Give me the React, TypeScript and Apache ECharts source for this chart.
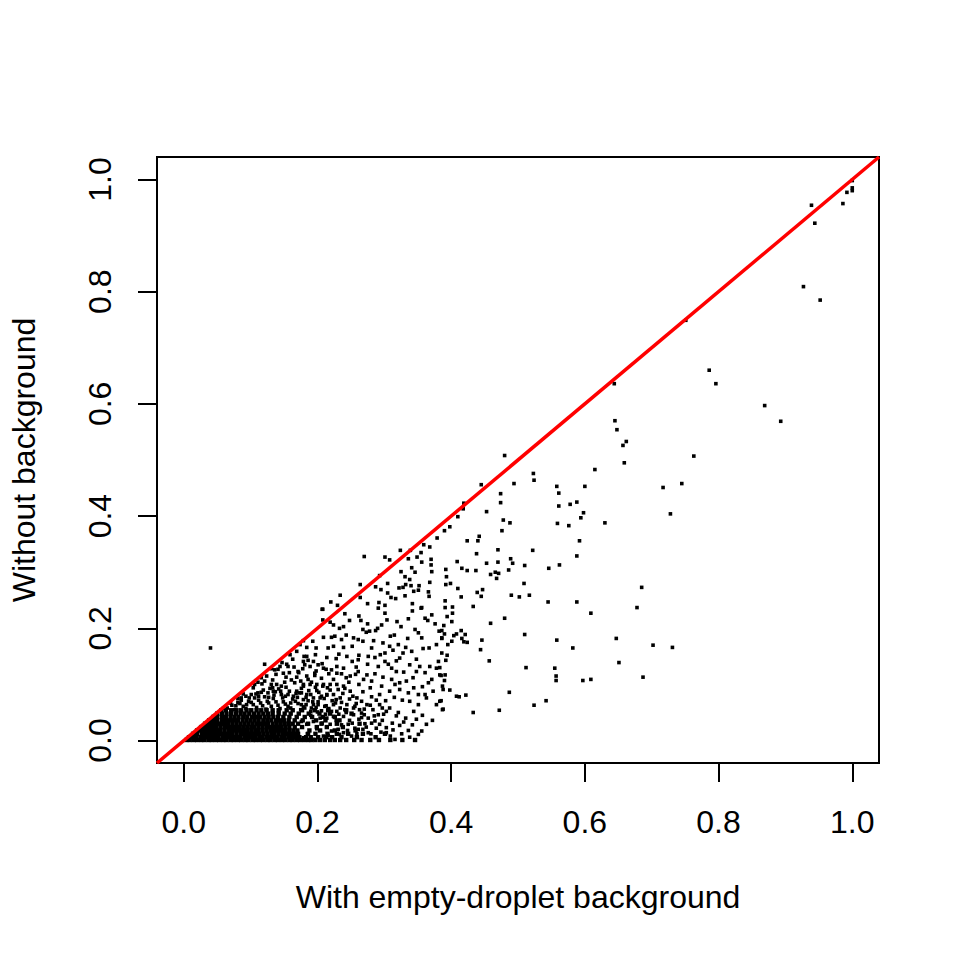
import React, { useEffect, useRef } from "react";
import * as echarts from "echarts";

const FONT = "'Liberation Sans', Arial, Helvetica, sans-serif";
const TICKS = [0, 0.2, 0.4, 0.6, 0.8, 1.0];
const X_NAME = "With empty-droplet background";
const Y_NAME = "Without background";

// sparse upper-right points
const upperPoints: [number, number][] = [
  [1.0, 0.998], [0.992, 0.977], [1.0, 0.985], [1.0, 0.98], [0.939, 0.954], [0.986, 0.957],
  [0.944, 0.922], [0.927, 0.809], [0.952, 0.785], [0.751, 0.749], [0.786, 0.66], [0.796, 0.636],
  [0.644, 0.636], [0.869, 0.597], [0.893, 0.569], [0.645, 0.57], [0.648, 0.554], [0.657, 0.526],
  [0.662, 0.533], [0.763, 0.507],
];

// middle region points
const midPoints: [number, number][] = [
  [0.659, 0.495], [0.48, 0.508], [0.615, 0.483], [0.523, 0.476], [0.524, 0.464], [0.445, 0.456],
  [0.494, 0.458], [0.558, 0.453], [0.6, 0.453], [0.717, 0.451], [0.745, 0.458], [0.561, 0.441],
  [0.474, 0.44], [0.474, 0.424], [0.419, 0.423], [0.418, 0.413], [0.561, 0.418], [0.578, 0.421],
  [0.588, 0.425], [0.453, 0.408], [0.598, 0.406], [0.594, 0.397], [0.728, 0.404], [0.41, 0.399],
  [0.478, 0.393], [0.488, 0.388], [0.559, 0.387], [0.576, 0.383], [0.63, 0.388], [0.398, 0.381],
  [0.39, 0.374], [0.476, 0.374], [0.442, 0.364], [0.424, 0.356], [0.44, 0.356], [0.592, 0.356],
  [0.47, 0.34], [0.522, 0.339], [0.438, 0.333], [0.588, 0.329], [0.409, 0.319], [0.453, 0.316],
  [0.47, 0.318], [0.489, 0.324], [0.492, 0.316], [0.51, 0.312], [0.546, 0.307], [0.562, 0.313],
  [0.392, 0.305], [0.416, 0.307], [0.424, 0.303], [0.437, 0.303], [0.459, 0.296], [0.466, 0.3],
  [0.471, 0.298], [0.468, 0.289], [0.486, 0.304], [0.393, 0.292], [0.392, 0.278], [0.399, 0.28],
  [0.41, 0.271], [0.439, 0.264], [0.447, 0.269], [0.445, 0.257], [0.415, 0.256], [0.49, 0.259],
  [0.502, 0.256], [0.517, 0.259], [0.509, 0.28], [0.685, 0.273], [0.391, 0.249], [0.545, 0.247],
  [0.588, 0.247], [0.433, 0.239], [0.402, 0.238], [0.391, 0.237], [0.678, 0.237], [0.609, 0.227],
  [0.402, 0.227], [0.394, 0.221], [0.48, 0.218], [0.401, 0.212], [0.459, 0.209], [0.389, 0.205],
  [0.386, 0.196], [0.39, 0.19], [0.415, 0.196], [0.404, 0.187], [0.408, 0.19], [0.421, 0.189],
  [0.51, 0.189], [0.386, 0.182], [0.416, 0.182], [0.401, 0.177], [0.395, 0.171], [0.419, 0.176],
  [0.424, 0.175], [0.446, 0.179], [0.444, 0.162], [0.558, 0.179], [0.647, 0.182], [0.582, 0.165],
  [0.702, 0.17], [0.731, 0.166], [0.394, 0.152], [0.392, 0.143], [0.457, 0.142], [0.651, 0.139],
  [0.383, 0.13], [0.512, 0.13], [0.555, 0.129], [0.557, 0.115], [0.557, 0.107], [0.597, 0.107],
  [0.609, 0.109], [0.687, 0.113], [0.385, 0.116], [0.391, 0.117], [0.39, 0.107], [0.387, 0.097],
  [0.398, 0.09], [0.408, 0.079], [0.412, 0.078], [0.422, 0.081], [0.487, 0.086], [0.385, 0.071],
  [0.388, 0.056], [0.433, 0.05], [0.472, 0.054], [0.524, 0.063], [0.542, 0.071],
  [0.379, 0.361], [0.368, 0.345], [0.359, 0.349], [0.339, 0.339], [0.324, 0.339], [0.355, 0.335],
  [0.349, 0.327], [0.336, 0.324], [0.37, 0.323], [0.356, 0.318], [0.37, 0.313], [0.341, 0.308],
  [0.371, 0.301], [0.346, 0.3], [0.325, 0.301], [0.27, 0.328], [0.301, 0.327], [0.308, 0.322],
  [0.293, 0.294], [0.331, 0.292], [0.338, 0.287], [0.332, 0.278], [0.34, 0.276], [0.352, 0.276],
  [0.368, 0.282], [0.322, 0.272], [0.328, 0.273], [0.264, 0.278], [0.287, 0.274], [0.295, 0.269],
  [0.305, 0.28], [0.344, 0.266], [0.351, 0.268], [0.366, 0.265], [0.305, 0.263], [0.331, 0.258],
  [0.367, 0.257], [0.31, 0.255], [0.317, 0.253], [0.264, 0.255], [0.234, 0.259], [0.22, 0.247],
  [0.23, 0.241], [0.275, 0.244], [0.292, 0.246], [0.301, 0.241], [0.342, 0.244], [0.356, 0.237],
  [0.207, 0.234],
];

// cluster points (lower-left, medium density)
const clusterPoints: [number, number][] = [
  [0.208, 0.234], [0.241, 0.226], [0.262, 0.222], [0.265, 0.214], [0.248, 0.214], [0.291, 0.236],
  [0.301, 0.227], [0.304, 0.215], [0.319, 0.212], [0.336, 0.217], [0.342, 0.231], [0.355, 0.236],
  [0.361, 0.218], [0.365, 0.214], [0.371, 0.224], [0.382, 0.195], [0.386, 0.183], [0.376, 0.208],
  [0.356, 0.183], [0.351, 0.192], [0.346, 0.198], [0.341, 0.159], [0.332, 0.166], [0.325, 0.203],
  [0.309, 0.186], [0.29, 0.2], [0.287, 0.196], [0.278, 0.195], [0.273, 0.193], [0.268, 0.198],
  [0.296, 0.206], [0.239, 0.203], [0.233, 0.2], [0.224, 0.206], [0.219, 0.211], [0.208, 0.215],
  [0.209, 0.184], [0.221, 0.184], [0.226, 0.186], [0.236, 0.18], [0.193, 0.177], [0.184, 0.166],
  [0.198, 0.165], [0.216, 0.165], [0.224, 0.168], [0.239, 0.166], [0.254, 0.183], [0.261, 0.18],
  [0.268, 0.177], [0.281, 0.165], [0.294, 0.153], [0.298, 0.174], [0.308, 0.168], [0.321, 0.171],
  [0.328, 0.156], [0.367, 0.165], [0.378, 0.171], [0.244, 0.15], [0.261, 0.144], [0.276, 0.15],
  [0.301, 0.156], [0.323, 0.147], [0.338, 0.135], [0.348, 0.123], [0.353, 0.132], [0.368, 0.132],
  [0.378, 0.129], [0.383, 0.117], [0.371, 0.109], [0.366, 0.103], [0.386, 0.156], [0.381, 0.141],
  [0.184, 0.15], [0.181, 0.135], [0.194, 0.141], [0.201, 0.135], [0.189, 0.132], [0.196, 0.12],
  [0.184, 0.115], [0.209, 0.129], [0.221, 0.126], [0.229, 0.12], [0.239, 0.129], [0.249, 0.115],
  [0.261, 0.123], [0.274, 0.117], [0.281, 0.106], [0.291, 0.132], [0.301, 0.141], [0.311, 0.129],
  [0.318, 0.123], [0.311, 0.109], [0.296, 0.097], [0.323, 0.103], [0.333, 0.106], [0.336, 0.085],
  [0.351, 0.082], [0.361, 0.082], [0.338, 0.07], [0.351, 0.064], [0.363, 0.076], [0.378, 0.064],
  [0.383, 0.07], [0.388, 0.091], [0.387, 0.055], [0.308, 0.088], [0.316, 0.1], [0.323, 0.091],
  [0.293, 0.064], [0.303, 0.052], [0.308, 0.058], [0.283, 0.055], [0.291, 0.046], [0.274, 0.064],
  [0.266, 0.07], [0.259, 0.076], [0.249, 0.088], [0.239, 0.097], [0.229, 0.1], [0.219, 0.1],
  [0.209, 0.1], [0.199, 0.1], [0.189, 0.1], [0.179, 0.1], [0.176, 0.085], [0.184, 0.082],
  [0.194, 0.076], [0.204, 0.076], [0.214, 0.082], [0.224, 0.082], [0.234, 0.076], [0.244, 0.064],
  [0.254, 0.058], [0.266, 0.049], [0.276, 0.04], [0.281, 0.031], [0.293, 0.029], [0.303, 0.023],
  [0.323, 0.027], [0.351, 0.011], [0.356, 0.017], [0.316, 0.002], [0.303, 0.014], [0.276, 0.014],
  [0.268, 0.02], [0.261, 0.02], [0.251, 0.008], [0.239, 0.014], [0.231, 0.02], [0.221, 0.017],
  [0.209, 0.008], [0.194, 0.002], [0.179, 0.005], [0.176, 0.034], [0.184, 0.029], [0.194, 0.034],
  [0.204, 0.04], [0.214, 0.04], [0.224, 0.043], [0.239, 0.043], [0.254, 0.046], [0.181, 0.058],
  [0.191, 0.058], [0.201, 0.064], [0.211, 0.061], [0.224, 0.064], [0.234, 0.058], [0.219, 0.029],
  [0.246, 0.029],
  [0.179, 0.178], [0.174, 0.171], [0.159, 0.153], [0.156, 0.132], [0.144, 0.132], [0.149, 0.12],
  [0.136, 0.126], [0.121, 0.136], [0.121, 0.106], [0.131, 0.1], [0.139, 0.1], [0.166, 0.103],
  [0.175, 0.106], [0.179, 0.097], [0.106, 0.1], [0.101, 0.082], [0.111, 0.085], [0.126, 0.085],
  [0.134, 0.088], [0.146, 0.082], [0.156, 0.082], [0.169, 0.088], [0.059, 0.057], [0.046, 0.044],
  [0.025, 0.022], [0.086, 0.076], [0.171, 0.123], [0.179, 0.141], [0.18, 0.15], [0.169, 0.159],
  [0.04, 0.165],
  [0.072, 0.063], [0.081, 0.068], [0.089, 0.061], [0.097, 0.07], [0.104, 0.064], [0.112, 0.072],
  [0.118, 0.062], [0.127, 0.067], [0.134, 0.075], [0.141, 0.063], [0.149, 0.069], [0.156, 0.061],
  [0.163, 0.074], [0.171, 0.066], [0.179, 0.06], [0.186, 0.071], [0.194, 0.064], [0.201, 0.069],
  [0.213, 0.062], [0.227, 0.067], [0.093, 0.079], [0.108, 0.083], [0.121, 0.078], [0.137, 0.087],
  [0.152, 0.079], [0.168, 0.084], [0.183, 0.077], [0.199, 0.089], [0.214, 0.081], [0.231, 0.091],
  [0.104, 0.094], [0.117, 0.101], [0.129, 0.093], [0.146, 0.097], [0.161, 0.108], [0.176, 0.093],
  [0.191, 0.104], [0.208, 0.097], [0.224, 0.109], [0.247, 0.104], [0.116, 0.112], [0.138, 0.118],
  [0.153, 0.113], [0.172, 0.121], [0.196, 0.116], [0.213, 0.127], [0.236, 0.119], [0.258, 0.131],
  [0.131, 0.128], [0.147, 0.139], [0.165, 0.131], [0.186, 0.143], [0.207, 0.137], [0.228, 0.146],
  [0.252, 0.141],
];

// extra points in the busy band just above the solid core
const bandPoints: [number, number][] = [
  [0.065, 0.058], [0.076, 0.055], [0.084, 0.066], [0.093, 0.057], [0.101, 0.068], [0.109, 0.059],
  [0.115, 0.067], [0.123, 0.056], [0.131, 0.061], [0.138, 0.069], [0.144, 0.057], [0.152, 0.065],
  [0.16, 0.058], [0.167, 0.07], [0.175, 0.055], [0.183, 0.064], [0.19, 0.052], [0.198, 0.059],
  [0.206, 0.053], [0.217, 0.057], [0.229, 0.052], [0.241, 0.055], [0.256, 0.061], [0.27, 0.056],
  [0.285, 0.044], [0.262, 0.038], [0.271, 0.03], [0.288, 0.022], [0.297, 0.036], [0.312, 0.031],
  [0.326, 0.012], [0.338, 0.006], [0.318, 0.044], [0.332, 0.04], [0.344, 0.052], [0.357, 0.045],
  [0.372, 0.036], [0.363, 0.029], [0.248, 0.036], [0.236, 0.028], [0.256, 0.022], [0.243, 0.05],
  [0.263, 0.055], [0.081, 0.075], [0.089, 0.083], [0.098, 0.076], [0.112, 0.079], [0.119, 0.09],
  [0.127, 0.077], [0.135, 0.081], [0.142, 0.092], [0.148, 0.076], [0.158, 0.088], [0.164, 0.079],
  [0.173, 0.085], [0.179, 0.073], [0.19, 0.082], [0.197, 0.095], [0.206, 0.079], [0.219, 0.09],
  [0.228, 0.073], [0.238, 0.084], [0.253, 0.079], [0.268, 0.087], [0.281, 0.078], [0.293, 0.082],
  [0.302, 0.071], [0.315, 0.077], [0.327, 0.072], [0.279, 0.094], [0.262, 0.1], [0.111, 0.104],
  [0.124, 0.115], [0.133, 0.108], [0.141, 0.127], [0.151, 0.104], [0.158, 0.121], [0.169, 0.113],
  [0.178, 0.128], [0.186, 0.109], [0.198, 0.124], [0.206, 0.111], [0.217, 0.119], [0.229, 0.132],
  [0.243, 0.112], [0.257, 0.118], [0.269, 0.109], [0.286, 0.119], [0.298, 0.113], [0.306, 0.136],
  [0.318, 0.142], [0.275, 0.136], [0.262, 0.152], [0.232, 0.154], [0.214, 0.148], [0.197, 0.153],
  [0.163, 0.145], [0.154, 0.136], [0.286, 0.148], [0.313, 0.161], [0.284, 0.178], [0.252, 0.168],
  [0.243, 0.188], [0.275, 0.208], [0.315, 0.188], [0.335, 0.182], [0.358, 0.164], [0.348, 0.145],
  [0.361, 0.121], [0.343, 0.112], [0.357, 0.096], [0.373, 0.088], [0.344, 0.094], [0.329, 0.122],
];

// more points in the dark zone right of the core
const darkZonePoints: [number, number][] = [
  [0.185, 0.012], [0.199, 0.021], [0.207, 0.031], [0.216, 0.009], [0.228, 0.036], [0.233, 0.011],
  [0.245, 0.018], [0.252, 0.031], [0.259, 0.012], [0.266, 0.041], [0.273, 0.024], [0.28, 0.012],
  [0.286, 0.035], [0.295, 0.015], [0.299, 0.047], [0.309, 0.008], [0.313, 0.019], [0.321, 0.05],
  [0.329, 0.033], [0.336, 0.018], [0.342, 0.028], [0.348, 0.038], [0.19, 0.045], [0.2, 0.051],
  [0.212, 0.047], [0.221, 0.052], [0.232, 0.047], [0.27, 0.046], [0.279, 0.063], [0.288, 0.072],
  [0.297, 0.058], [0.258, 0.066], [0.248, 0.074], [0.236, 0.068], [0.222, 0.071], [0.21, 0.075],
  [0.187, 0.089], [0.202, 0.086], [0.215, 0.094], [0.241, 0.093], [0.07, 0.067], [0.078, 0.062],
  [0.086, 0.072], [0.094, 0.064], [0.106, 0.076], [0.116, 0.086], [0.125, 0.07], [0.133, 0.094],
  [0.145, 0.088], [0.153, 0.095], [0.16, 0.067], [0.17, 0.077], [0.176, 0.064], [0.193, 0.069],
];

// dense core near the origin: one y value per row, with the x values read along that row
const coreRowY = [0.001, 0.006, 0.012, 0.018, 0.024, 0.03, 0.036, 0.042, 0.048, 0.054];
const coreRowX: number[][] = [
  [0.004, 0.009, 0.015, 0.02, 0.026, 0.031, 0.037, 0.042, 0.048, 0.053, 0.059, 0.064, 0.07, 0.075,
    0.081, 0.086, 0.092, 0.097, 0.103, 0.108, 0.114, 0.119, 0.125, 0.13, 0.136, 0.141, 0.147, 0.152,
    0.158, 0.163, 0.169, 0.174, 0.18, 0.186, 0.191, 0.197, 0.204, 0.211, 0.219, 0.226, 0.234, 0.243,
    0.255, 0.266, 0.279, 0.292, 0.309, 0.327, 0.346],
  [0.008, 0.014, 0.019, 0.025, 0.03, 0.036, 0.041, 0.047, 0.052, 0.058, 0.063, 0.069, 0.074, 0.08,
    0.085, 0.091, 0.096, 0.102, 0.107, 0.113, 0.118, 0.124, 0.129, 0.135, 0.14, 0.146, 0.151, 0.157,
    0.162, 0.168, 0.173, 0.183, 0.19, 0.201, 0.213, 0.222, 0.236, 0.259, 0.287],
  [0.014, 0.02, 0.027, 0.033, 0.039, 0.045, 0.051, 0.056, 0.062, 0.068, 0.073, 0.079, 0.085, 0.09,
    0.096, 0.102, 0.108, 0.113, 0.119, 0.125, 0.131, 0.136, 0.142, 0.148, 0.153, 0.159, 0.165, 0.171,
    0.186, 0.197, 0.215, 0.229, 0.246, 0.268, 0.301],
  [0.02, 0.026, 0.032, 0.038, 0.044, 0.05, 0.055, 0.061, 0.067, 0.072, 0.078, 0.084, 0.09, 0.095,
    0.101, 0.107, 0.112, 0.118, 0.124, 0.13, 0.135, 0.141, 0.147, 0.152, 0.158, 0.164, 0.17, 0.188,
    0.204, 0.226, 0.257],
  [0.026, 0.032, 0.038, 0.044, 0.049, 0.055, 0.061, 0.066, 0.072, 0.078, 0.083, 0.089, 0.095, 0.101,
    0.106, 0.112, 0.118, 0.124, 0.129, 0.135, 0.141, 0.146, 0.152, 0.158, 0.166, 0.177, 0.199, 0.214,
    0.238],
  [0.032, 0.038, 0.044, 0.05, 0.056, 0.062, 0.067, 0.073, 0.079, 0.085, 0.091, 0.097, 0.103, 0.109,
    0.114, 0.12, 0.126, 0.133, 0.139, 0.145, 0.151, 0.157, 0.163, 0.171, 0.186, 0.206, 0.229, 0.263],
  [0.038, 0.044, 0.05, 0.057, 0.063, 0.069, 0.075, 0.081, 0.088, 0.094, 0.1, 0.106, 0.112, 0.119,
    0.125, 0.131, 0.138, 0.144, 0.15, 0.157, 0.166, 0.178, 0.198, 0.212, 0.233],
  [0.044, 0.05, 0.057, 0.063, 0.07, 0.076, 0.082, 0.089, 0.095, 0.102, 0.108, 0.114, 0.121, 0.127,
    0.134, 0.141, 0.149, 0.158, 0.169, 0.181, 0.192, 0.208, 0.226],
  [0.05, 0.057, 0.064, 0.071, 0.078, 0.085, 0.091, 0.098, 0.105, 0.112, 0.119, 0.126, 0.133, 0.142,
    0.151, 0.16, 0.172, 0.187, 0.203, 0.219, 0.251],
  [0.056, 0.063, 0.071, 0.079, 0.086, 0.094, 0.101, 0.109, 0.116, 0.124, 0.133, 0.142, 0.154, 0.163,
    0.177, 0.196, 0.216, 0.243],
];

const diagonal: [number, number][] = [[-0.04, -0.04], [1.04, 1.04]];

function buildCore(): [number, number][] {
  const pts: [number, number][] = [];
  coreRowY.forEach((y, i) => coreRowX[i].forEach((x) => pts.push([x, y])));
  return pts;
}

export default function App() {
  const ref = useRef<HTMLDivElement>(null);
  useEffect(() => {
    if (!ref.current) return;
    const chart = echarts.init(ref.current, undefined, { renderer: "svg" });
    const axisCommon = {
      type: "value" as const,
      min: -0.04,
      max: 1.04,
      nameLocation: "middle" as const,
      nameTextStyle: { fontSize: 32, color: "#000", fontFamily: FONT },
      axisLine: { show: false, onZero: false },
      splitLine: { show: false },
      axisTick: {
        show: true,
        inside: false,
        length: 19,
        customValues: TICKS,
        lineStyle: { color: "#000", width: 2 },
      },
    };
    const labelCommon = {
      customValues: TICKS,
      formatter: (v: number) => v.toFixed(1),
      fontSize: 32,
      color: "#000",
      fontFamily: FONT,
    };
    chart.setOption({
      animation: false,
      backgroundColor: "#fff",
      grid: {
        left: 157,
        top: 157,
        width: 722,
        height: 606,
        show: true,
        borderColor: "#000",
        borderWidth: 2,
        backgroundColor: "transparent",
      },
      xAxis: {
        ...axisCommon,
        name: X_NAME,
        nameGap: 118,
        axisLabel: { ...labelCommon, margin: 43 },
      },
      yAxis: {
        ...axisCommon,
        name: Y_NAME,
        nameGap: 117,
        axisLabel: { ...labelCommon, rotate: 90, margin: 41 },
      },
      series: [
        {
          type: "scatter",
          data: buildCore(),
          symbol: "rect",
          symbolSize: 4.4,
          itemStyle: { color: "#000", opacity: 1 },
          silent: true,
          z: 2,
        },
        {
          type: "scatter",
          data: ([] as [number, number][]).concat(
            darkZonePoints, bandPoints, clusterPoints, midPoints, upperPoints
          ),
          symbol: "rect",
          symbolSize: 3.6,
          itemStyle: { color: "#000", opacity: 1 },
          silent: true,
          z: 2,
        },
        {
          type: "line",
          data: diagonal,
          symbol: "none",
          lineStyle: { color: "#ff0000", width: 3.5 },
          silent: true,
          clip: true,
          z: 3,
        },
      ],
    });
    return () => chart.dispose();
  }, []);
  return (
    <div
      ref={ref}
      style={{ position: "fixed", left: 0, top: 0, width: 960, height: 960, background: "#fff" }}
    />
  );
}
